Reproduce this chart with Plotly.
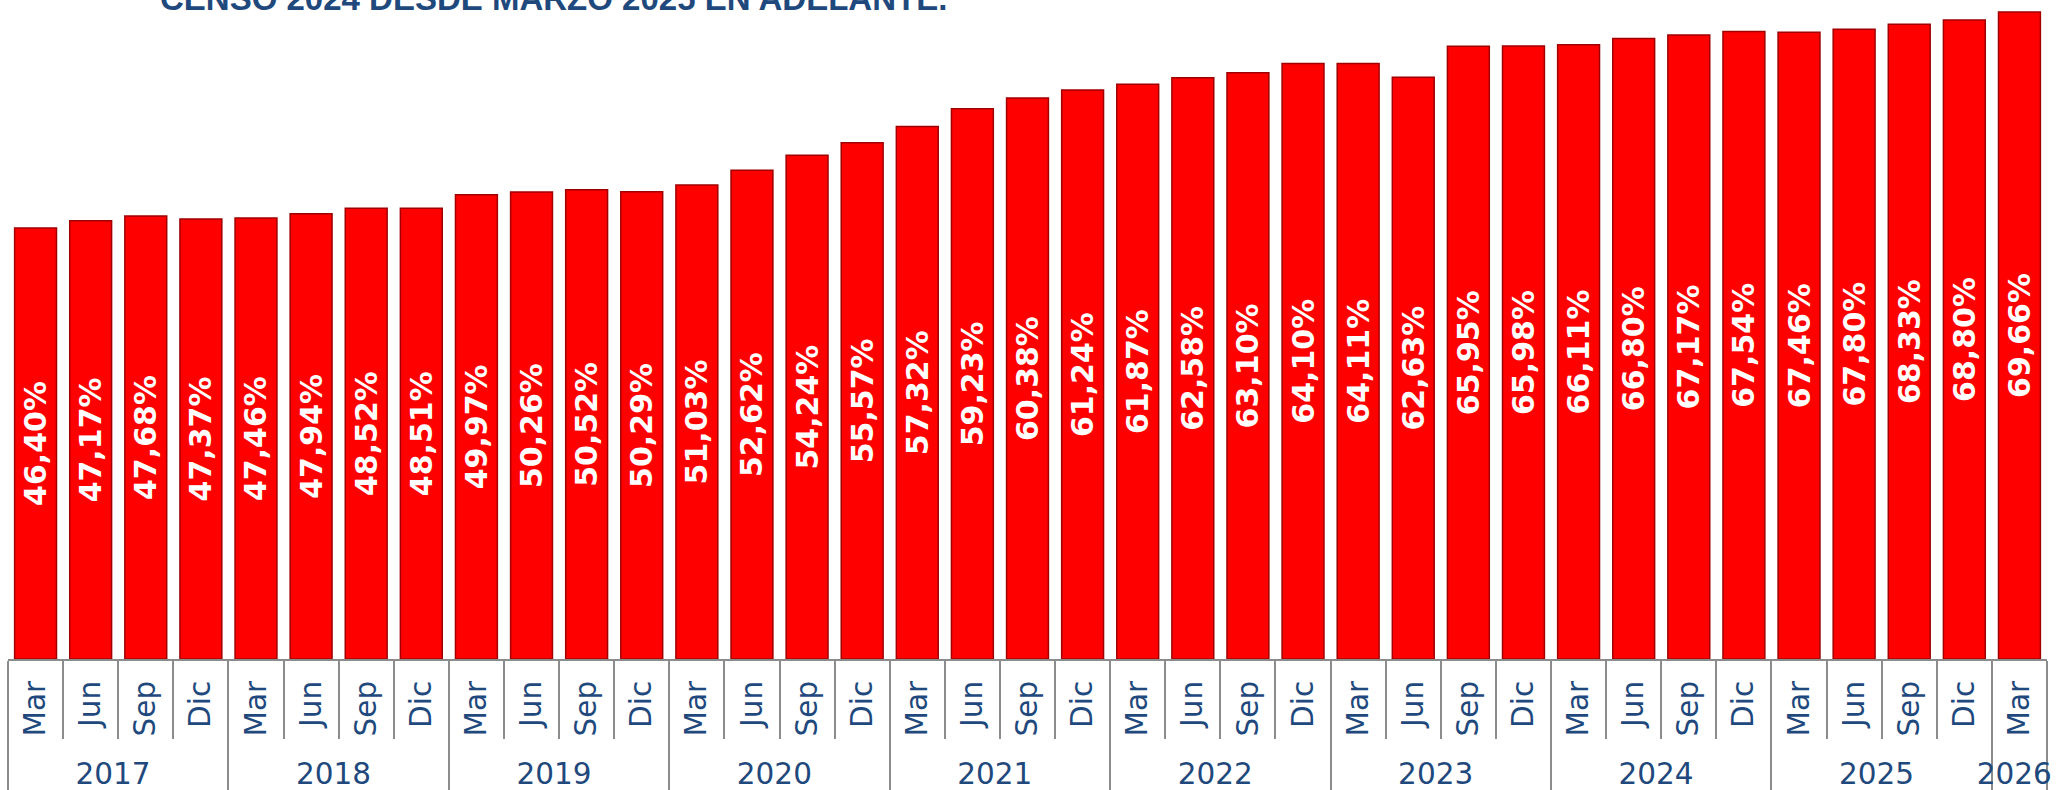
import plotly.graph_objects as go

years = ["2017"] * 4 + ["2018"] * 4 + ["2019"] * 4 + ["2020"] * 4 + ["2021"] * 4 + \
        ["2022"] * 4 + ["2023"] * 4 + ["2024"] * 4 + ["2025"] * 4 + ["2026"]
months = ["Mar", "Jun", "Sep", "Dic"] * 9 + ["Mar"]
values = [46.40, 47.17, 47.68, 47.37,
          47.46, 47.94, 48.52, 48.51,
          49.97, 50.26, 50.52, 50.29,
          51.03, 52.62, 54.24, 55.57,
          57.32, 59.23, 60.38, 61.24,
          61.87, 62.58, 63.10, 64.10,
          64.11, 62.63, 65.95, 65.98,
          66.11, 66.80, 67.17, 67.54,
          67.46, 67.80, 68.33, 68.80,
          69.66]
title_text = "CENSO 2024 DESDE MARZO 2025 EN ADELANTE."

BLUE = "#1F497D"
GRAY = "#8C8C8C"

fig = go.Figure(go.Bar(
    x=[years, months],
    y=values,
    marker=dict(color="#FF0000", line=dict(color="#A00000", width=1.5)),
    texttemplate="%{y:.2f}%",
    textposition="inside",
    insidetextanchor="middle",
    textangle=-90,
    constraintext="none",
    textfont=dict(family="DejaVu Sans", size=30, color="white", weight="bold"),
    hoverinfo="skip",
))

fig.update_layout(
    template="none",
    width=2059, height=790,
    margin=dict(l=8, r=12, t=0, b=131),
    paper_bgcolor="white", plot_bgcolor="white",
    separators=",.",
    bargap=0.24,
    showlegend=False,
    xaxis=dict(
        type="multicategory",
        automargin=False,
        tickson="boundaries",
        ticks="outside", ticklen=78, tickwidth=2, tickcolor=GRAY,
        tickangle=-90,
        ticklabelstandoff=8,
        tickfont=dict(family="DejaVu Sans", size=29.5, color=BLUE),
        showline=True, linecolor=GRAY, linewidth=2,
        showdividers=True, dividercolor=GRAY, dividerwidth=2,
        showgrid=False,
    ),
    yaxis=dict(range=[0, 70.94], visible=False, showgrid=False, zeroline=False,
               automargin=False),
    annotations=[dict(
        text=title_text, xref="paper", yref="paper", x=0.0736, y=1,
        xanchor="left", yanchor="bottom", yshift=-19, showarrow=False,
        font=dict(family="Liberation Sans", size=33, color=BLUE, weight="bold"),
    )],
)

fig.write_html("out.html", config={"displayModeBar": False},
               post_script="document.body.style.margin='0';")
